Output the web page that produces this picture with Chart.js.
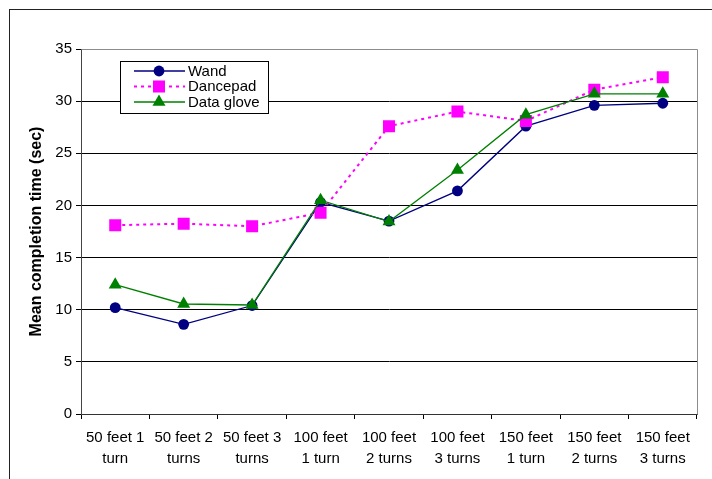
<!DOCTYPE html>
<html>
<head>
<meta charset="utf-8">
<script src="https://cdn.jsdelivr.net/npm/chart.js@4.4.1/dist/chart.umd.min.js"></script>
<style>
  html, body { margin: 0; padding: 0; background: #fff; overflow: hidden; }
  #frame { position: absolute; left: 9px; top: 9px; width: 760px; height: 520px;
           border-left: 1px solid #222; border-top: 1px solid #222; }
  #wrap { position: absolute; left: 0; top: 0; width: 712px; height: 479px; }
</style>
</head>
<body>
<div id="frame"></div>
<div id="wrap"><canvas id="chart" width="712" height="479"></canvas></div>
<script>
// Route conditions (distance + number of turns)
const categories = [
  ["50 feet 1", "turn"], ["50 feet 2", "turns"], ["50 feet 3", "turns"],
  ["100 feet", "1 turn"], ["100 feet", "2 turns"], ["100 feet", "3 turns"],
  ["150 feet", "1 turn"], ["150 feet", "2 turns"], ["150 feet", "3 turns"]
];

// Mean completion time in seconds for each travel technique
const wand      = [10.2, 8.6, 10.4, 20.3, 18.5, 21.4, 27.6, 29.6, 29.8];
const dancepad  = [18.1, 18.25, 18.0, 19.3, 27.6, 29.0, 28.1, 31.1, 32.3];
const dataGlove = [12.4, 10.55, 10.45, 20.5, 18.45, 23.4, 28.7, 30.7, 30.7];

const seriesNames = ["Wand", "Dancepad", "Data glove"];
const yTicks = [0, 5, 10, 15, 20, 25, 30, 35];

const FONT = 'Arial, "Liberation Sans", sans-serif';

// Plot-area frame (grey) drawn beneath the data
const plotFrame = {
  id: 'plotFrame',
  beforeDatasetsDraw(chart) {
    const { ctx, chartArea: a } = chart;
    ctx.save();
    ctx.strokeStyle = '#8c8c8c';
    ctx.lineWidth = 1;
    ctx.beginPath();
    ctx.moveTo(Math.round(a.left) + 0.5, Math.round(a.top) + 0.5);
    ctx.lineTo(Math.round(a.right) + 0.5, Math.round(a.top) + 0.5);
    ctx.lineTo(Math.round(a.right) + 0.5, Math.round(a.bottom) + 0.5);
    ctx.stroke();
    ctx.restore();
  }
};

// Boxed legend inside the plot area, upper left
const boxLegend = {
  id: 'boxLegend',
  afterDraw(chart) {
    const { ctx } = chart;
    const x0 = 120.5, y0 = 61.5, w = 148, h = 52;
    ctx.save();
    ctx.fillStyle = '#fff';
    ctx.fillRect(x0, y0, w, h);
    ctx.strokeStyle = '#000';
    ctx.lineWidth = 1;
    ctx.strokeRect(x0, y0, w, h);
    ctx.font = '15px ' + FONT;
    ctx.textBaseline = 'middle';
    ctx.textAlign = 'left';
    chart.data.datasets.forEach((ds, i) => {
      const y = 71 + i * 15.5;
      ctx.save();
      ctx.strokeStyle = ds.borderColor;
      ctx.lineWidth = ds.borderWidth;
      ctx.setLineDash(ds.borderDash || []);
      ctx.beginPath();
      ctx.moveTo(134, y);
      ctx.lineTo(185, y);
      ctx.stroke();
      ctx.restore();
      ctx.save();
      ctx.fillStyle = ds.pointBackgroundColor;
      ctx.strokeStyle = ds.pointBackgroundColor;
      Chart.helpers.drawPoint(ctx, { pointStyle: ds.pointStyle, radius: ds.pointRadius, borderWidth: 0 }, 159, y);
      ctx.restore();
      ctx.fillStyle = '#000';
      ctx.fillText(ds.label, 188, y + 0.5);
    });
    ctx.restore();
  }
};

new Chart(document.getElementById('chart'), {
  type: 'line',
  data: {
    labels: categories,
    datasets: [
      {
        label: seriesNames[0], data: wand, order: 3,
        borderColor: '#000080', borderWidth: 1.3,
        pointStyle: 'circle', pointRadius: 5.4,
        pointBackgroundColor: '#000080', pointBorderColor: '#000080', pointBorderWidth: 0
      },
      {
        label: seriesNames[1], data: dancepad, order: 2,
        borderColor: '#ff00ff', borderWidth: 2, borderDash: [3, 4],
        pointStyle: 'rect', pointRadius: 8.5,
        pointBackgroundColor: '#ff00ff', pointBorderColor: '#ff00ff', pointBorderWidth: 0
      },
      {
        label: seriesNames[2], data: dataGlove, order: 1,
        borderColor: '#008000', borderWidth: 1.3,
        pointStyle: 'triangle', pointRadius: 7.5,
        pointBackgroundColor: '#008000', pointBorderColor: '#008000', pointBorderWidth: 0
      }
    ]
  },
  options: {
    responsive: false,
    animation: false,
    devicePixelRatio: 1,
    layout: { padding: { left: 0, top: 49, right: 15, bottom: 0 } },
    plugins: { legend: { display: false }, tooltip: { enabled: false } },
    elements: { line: { tension: 0, fill: false } },
    scales: {
      x: {
        offset: true,
        grid: { offset: true, drawOnChartArea: false, drawTicks: true, tickLength: 5, color: '#000' },
        border: { color: '#333', width: 1 },
        ticks: { color: '#000', font: { family: FONT, size: 15, lineHeight: 1.4 }, padding: 8, maxRotation: 0, autoSkip: false },
        afterFit(s) { s.height = 65; }
      },
      y: {
        min: 0, max: 35,
        afterBuildTicks(s) { s.ticks = yTicks.map(v => ({ value: v })); },
        grid: {
          color: ctx => ctx.tick && ctx.tick.value === 35 ? '#8c8c8c' : '#000',
          tickColor: '#000', tickLength: 5, drawTicks: true
        },
        border: { color: '#444', width: 1 },
        ticks: { color: '#000', font: { family: FONT, size: 15 }, padding: 4 },
        title: {
          display: true, text: 'Mean completion time (sec)', color: '#000',
          font: { family: FONT, size: 16, weight: 'bold' }, padding: { top: 27, bottom: 0 }
        },
        afterFit(s) { s.width = 81; }
      }
    }
  },
  plugins: [plotFrame, boxLegend]
});
</script>
</body>
</html>
